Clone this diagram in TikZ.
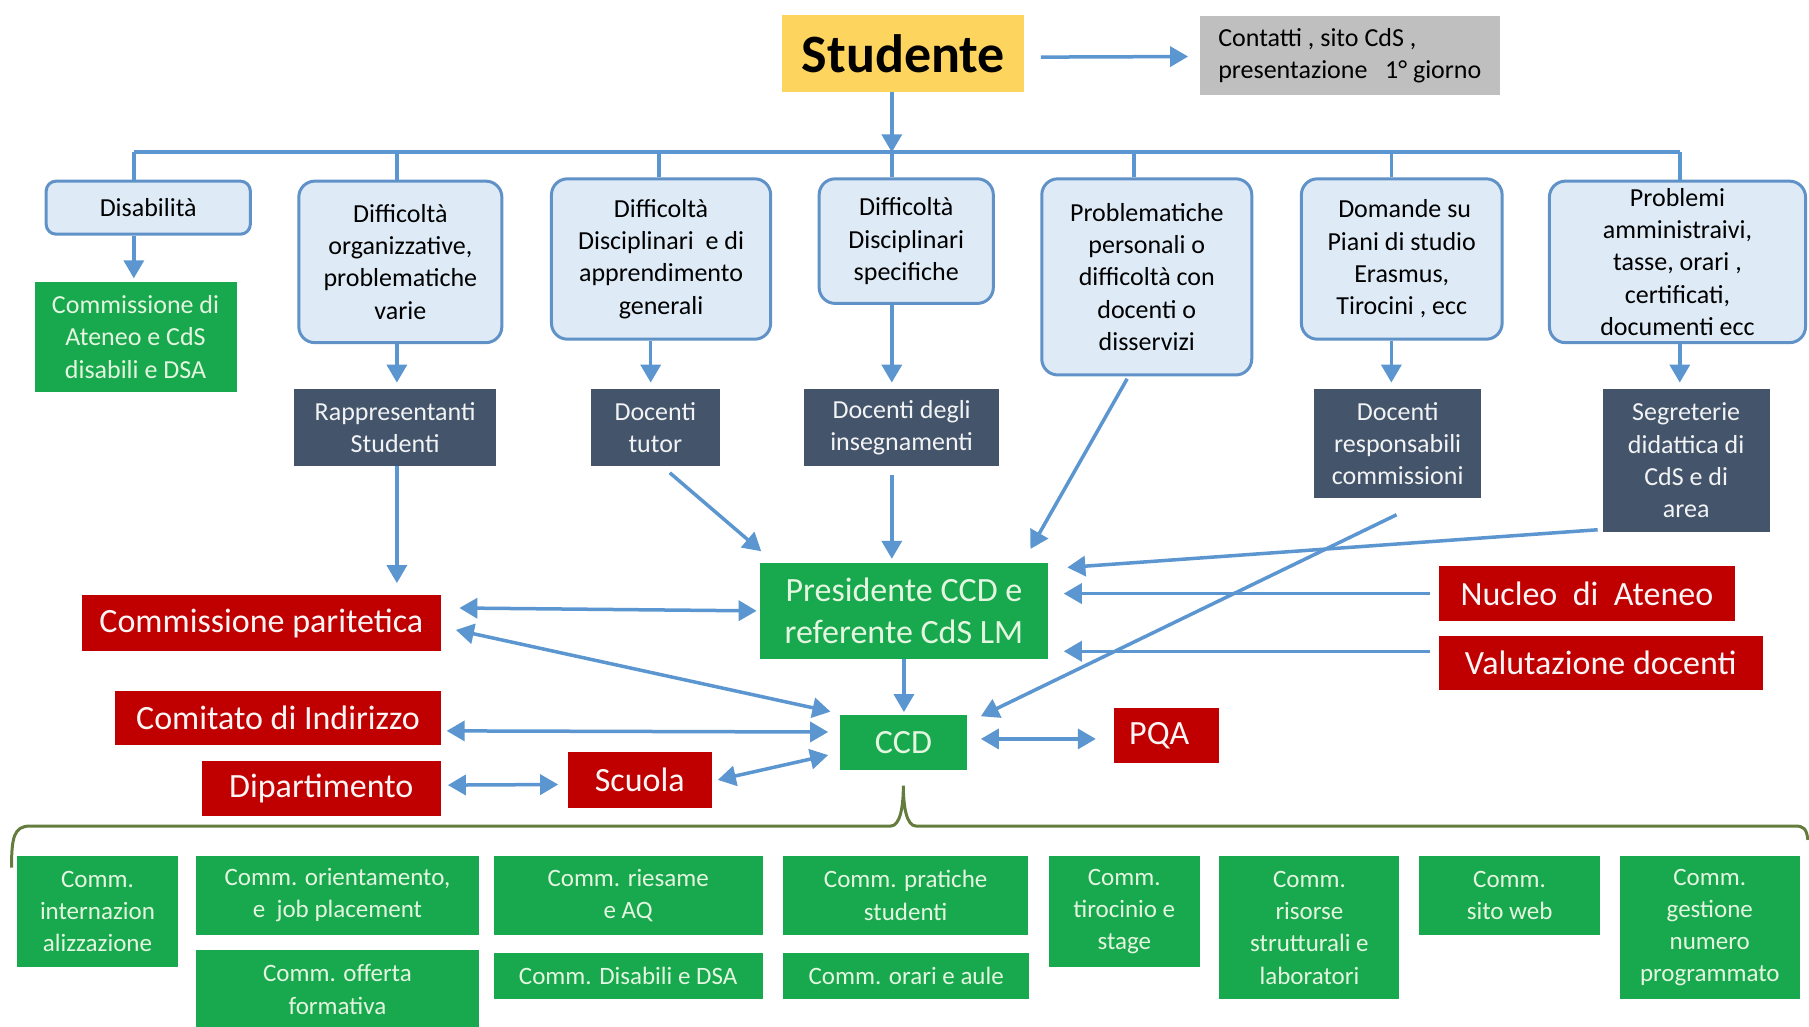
\documentclass[tikz,border=0pt]{standalone}
\usepackage{fontspec}
\setmainfont{Carlito}
\usetikzlibrary{arrows.meta,calc}
\definecolor{ablue}{RGB}{91,150,208}
\definecolor{lblue}{RGB}{222,235,247}
\definecolor{bborder}{RGB}{96,146,200}
\definecolor{syellow}{RGB}{253,213,94}
\definecolor{cgray}{RGB}{191,191,191}
\definecolor{dslate}{RGB}{68,84,106}
\definecolor{rred}{RGB}{192,0,0}
\definecolor{ggreen}{RGB}{24,168,78}
\definecolor{gtext}{RGB}{228,246,224}
\definecolor{bolive}{RGB}{100,125,62}
\newcommand{\bx}[7]{\node[#2, minimum width={(#5-#3)*1.1537pt}, minimum height={(#6-#4)*1.1537pt}] (#1) at ({(#3+#5)/2},{(#4+#6)/2}) {#7};}
\begin{document}
\begin{tikzpicture}[x=1.1537pt,y=-1.1537pt,
  base/.style={inner sep=0pt, align=center, anchor=center},
  qbox/.style={base, fill=lblue, draw=bborder, line width=3pt, rounded corners=16pt, text=black, font=\fontsize{26}{32.3}\selectfont},
  dbox/.style={base, fill=dslate, text=white!93!dslate, font=\fontsize{26}{32.3}\selectfont},
  rbox/.style={base, fill=rred, text=white!96!rred, font=\fontsize{34}{40}\selectfont},
  gbox/.style={base, fill=ggreen, text=gtext, font=\fontsize{26}{32.3}\selectfont},
  pbox/.style={base, fill=ggreen, text=gtext, font=\fontsize{34}{42.7}\selectfont},
  cbox/.style={base, fill=ggreen, text=gtext, font=\fontsize{25}{32.3}\selectfont},
  arr/.style={draw=ablue, line width=3.5pt, -{Triangle[length=18pt,width=20pt]}},
  darr/.style={draw=ablue, line width=3.5pt, {Triangle[length=18pt,width=20pt]}-{Triangle[length=18pt,width=20pt]}},
  busline/.style={draw=ablue, line width=4pt},
  dropline/.style={draw=ablue, line width=3.5pt},
  brace/.style={draw=bolive, line width=3pt}
]
\useasboundingbox[fill=white] (0,0) rectangle (1568,890);

% top
\bx{stud}{base, fill=syellow, font=\fontsize{54}{60}\selectfont\bfseries}{678}{13}{888}{80}{Studente}
\bx{cont}{base, fill=cgray, align=left, font=\fontsize{26}{32.3}\selectfont}{1040}{14}{1300}{82}{Contatti , sito CdS ,\\presentazione\ \ \ 1° giorno}

% question boxes
\bx{b1}{qbox, rounded corners=10pt}{40}{157}{217}{203}{Disabilità}
\bx{b2}{qbox}{259}{157}{435}{297}{Difficoltà\\organizzative,\\problematiche\\varie}
\bx{b3}{qbox}{478}{155}{668}{294}{Difficoltà\\Disciplinari\ \ e di\\apprendimento\\generali}
\bx{b4}{qbox}{710}{155}{861}{263}{Difficoltà\\Disciplinari\\specifiche}
\bx{b5}{qbox}{903}{155}{1085}{325}{Problematiche\\personali o\\difficoltà con\\docenti o\\disservizi}
\bx{b6}{qbox}{1128}{155}{1302}{294}{\ Domande su\\Piani di studio\\Erasmus,\\Tirocini , ecc}
\bx{b7}{qbox}{1343}{157}{1565}{297}{Problemi\\amministraivi,\\tasse, orari ,\\certificati,\\documenti ecc}

% second level
\bx{g1}{gbox}{30}{244}{205}{340}{Commissione di\\Ateneo e CdS\\disabili e DSA}
\bx{k1}{dbox}{255}{337}{430}{404}{Rappresentanti\\Studenti}
\bx{k2}{dbox}{512}{337}{624}{404}{Docenti\\tutor}
\bx{k3}{dbox}{697}{337}{866}{404}{Docenti degli\\insegnamenti}
\bx{k4}{dbox}{1139}{337}{1284}{432}{Docenti\\responsabili\\commissioni}
\bx{k5}{dbox}{1389}{337}{1534}{461}{Segreterie\\didattica di\\CdS e di\\area}

% central
\bx{pres}{pbox}{659}{488}{908}{571}{Presidente CCD e\\referente CdS LM}
\bx{ccd}{pbox}{728}{620}{838}{667}{CCD}
\bx{pqa}{rbox}{966}{614}{1057}{661}{PQA\ \ }
\bx{cpar}{rbox}{71}{516}{382}{564}{Commissione paritetica}
\bx{comi}{rbox}{100}{599}{382}{646}{Comitato di Indirizzo}
\bx{dip}{rbox}{175}{660}{382}{707}{Dipartimento}
\bx{scu}{rbox}{492}{652}{617}{700}{Scuola}
\bx{nuc}{rbox}{1247}{491}{1504}{538}{Nucleo\ \ di\ \ Ateneo}
\bx{val}{rbox}{1247}{551}{1528}{598}{Valutazione docenti}

% commissions
\bx{c1}{cbox}{15}{742}{154}{838}{Comm.\\internazion\\alizzazione}
\bx{c2}{cbox}{170}{742}{415}{810}{Comm. orientamento,\\e\ \ job placement}
\bx{c3}{cbox}{170}{823}{415}{892}{Comm. offerta\\formativa}
\bx{c4}{cbox}{428}{742}{661}{810}{Comm. riesame\\e AQ}
\bx{c5}{cbox}{428}{826}{661}{866}{Comm. Disabili e DSA}
\bx{c6}{cbox}{679}{742}{891}{810}{Comm. pratiche\\studenti}
\bx{c7}{cbox}{679}{826}{892}{866}{Comm. orari e aule}
\bx{c8}{cbox}{909}{742}{1040}{838}{Comm.\\tirocinio e\\stage}
\bx{c9}{cbox}{1057}{742}{1213}{866}{Comm.\\risorse\\strutturali e\\laboratori}
\bx{c10}{cbox}{1230}{742}{1387}{810}{Comm.\\sito web}
\bx{c11}{cbox}{1404}{742}{1560}{866}{Comm.\\gestione\\numero\\programmato}

% bus
\coordinate (d1) at (116,132);
\coordinate (d2) at (344,132);
\coordinate (d3) at (571,132);
\coordinate (d4) at (773,132);
\coordinate (d5) at (983,132);
\coordinate (d6) at (1206,132);
\coordinate (d7) at (1456,132);
\coordinate (a3) at (564,0);
\draw[busline] (d1) -- (d7);
\foreach \i in {1,...,7}{\draw[dropline] (d\i) -- (d\i |- b\i.north);}
\draw[arr] (stud.south -| d4) -- (d4);
\draw[arr] ($(stud.east)+(14,3)$) -- ($(cont.west)+(-10,1)$);

% first level arrows
\draw[arr, shorten >=3pt] (b1.south -| d1) -- (g1.north -| d1);
\draw[arr, shorten >=6pt] (b2.south -| d2) -- (k1.north -| d2);
\draw[arr, shorten >=6pt] (b3.south -| a3) -- (k2.north -| a3);
\draw[arr, shorten >=6pt] (b4.south -| d4) -- (k3.north -| d4);
\draw[arr, shorten >=6pt] (b6.south -| d6) -- (k4.north -| d6);
\draw[arr, shorten >=6pt] (b7.south -| d7) -- (k5.north -| d7);

% to presidente
\draw[arr, shorten >=12pt] (k1.south -| d2) -- (cpar.north -| d2);
\draw[arr, shorten <=10pt] ($(k2.south)+(6,0)$) -- ($(pres.north west)+(1,-10)$);
\draw[arr, shorten <=9pt, shorten >=4pt] (k3.south -| d4) -- (pres.north -| d4);
\draw[arr] ($(b5.south)+(-17,2)$) -- ($(pres.north east)+(-15,-12)$);
\draw[arr] ($(k5.south west)+(-4,-2)$) -- ($(pres.north east)+(17,4)$);
\draw[arr, shorten <=8pt, shorten >=16pt] (nuc.west) -- (nuc.west -| pres.east);
\coordinate (vw) at ($(val.west)+(0,-10)$);
\draw[arr, shorten <=8pt, shorten >=16pt] (vw) -- (vw -| pres.east);
\draw[arr] ($(k4.south)+(-1,14)$) -- ($(ccd.north east)+(12,1)$);

% double arrows
\draw[darr] ($(cpar.east)+(16,-13)$) -- ($(pres.west)+(-3,0)$);
\draw[darr] ($(cpar.east)+(13,6)$) -- ($(ccd.north west)+(-8,-3)$);
\draw[arr, shorten >=3pt] (pres.south) -- (pres.south |- ccd.north);
\draw[darr] ($(comi.east)+(5,11)$) -- ($(ccd.west)+(-10,-9)$);
\draw[darr] ($(dip.east)+(6,-3)$) -- ($(scu.west)+(-8,4)$);
\draw[darr] ($(scu.east)+(5,0)$) -- ($(ccd.west)+(-10,11)$);
\draw[darr] ($(ccd.east)+(12,-3)$) -- ($(pqa.west)+(-16,3)$);

% brace
\draw[brace] (10,752) .. controls (10,726) and (12,716) .. (26,716) -- (772,716) .. controls (780,716) and (783,700) .. (783,681) .. controls (783,700) and (786,716) .. (794,716) -- (1556,716) .. controls (1563,716) and (1566,718) .. (1567,728);
\end{tikzpicture}
\end{document}
